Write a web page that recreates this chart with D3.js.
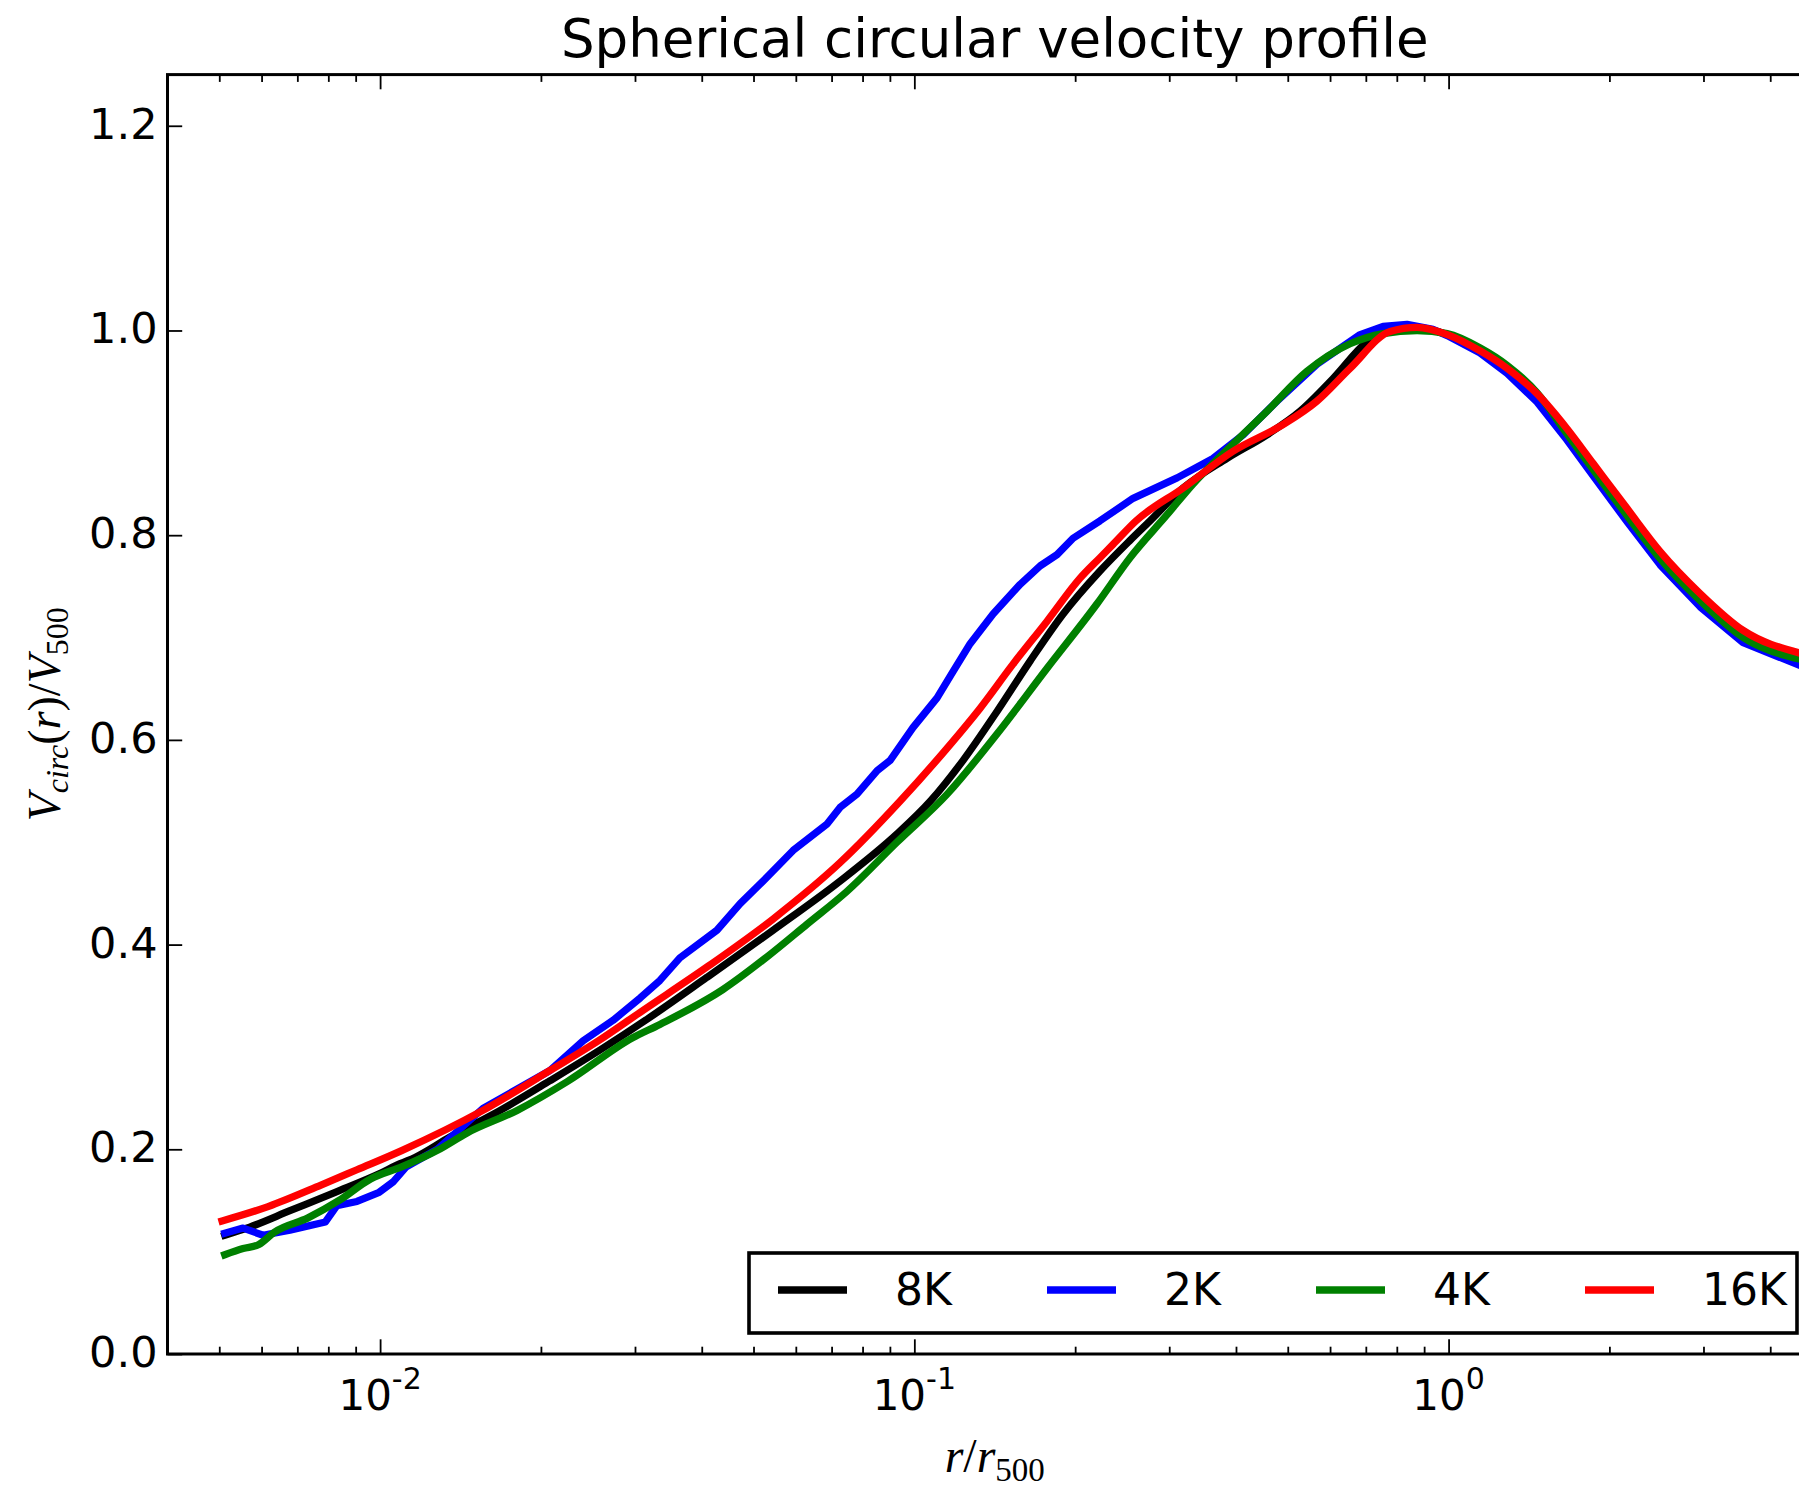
<!DOCTYPE html>
<html>
<head>
<meta charset="utf-8">
<script src="https://cdn.jsdelivr.net/npm/d3@7"></script>
<style>
body{margin:0;background:#fff;}
svg{display:block;}
</style>
</head>
<body>
<div id="chart"></div>
<script>
// series (r/r500 -> Vcirc/V500)
var names=['8K','2K','4K','16K'];
var colors=['#000000','#0000ff','#008000','#ff0000'];

var r8K=[0.00512,0.0057,0.00678,0.00824,0.00996,0.0109,0.01162,0.01352,0.01678,0.0208,0.0258,0.0320,0.0409,0.0544,0.0726,0.0928,0.1071,0.1234,0.1429,0.1647,0.1899,0.2226,0.2534,0.2762,0.3184,0.3848,0.457,0.527,0.608,0.704,0.787,0.873,0.994,1.146,1.287,1.465,1.666,1.865,2.159,2.489,2.957,3.559,4.53];
var v8K=[0.116,0.124,0.140,0.158,0.176,0.186,0.192,0.212,0.238,0.267,0.297,0.329,0.368,0.414,0.462,0.508,0.540,0.580,0.628,0.677,0.723,0.765,0.795,0.814,0.846,0.875,0.898,0.921,0.953,0.989,1.002,1.002,0.996,0.979,0.961,0.935,0.900,0.866,0.822,0.780,0.739,0.703,0.681];

var r2K=[0.00512,0.00554,0.00604,0.00678,0.0079,0.0083,0.00905,0.00996,0.01057,0.0112,0.0128,0.01558,0.0208,0.0240,0.0273,0.0307,0.0334,0.0364,0.0427,0.0472,0.0521,0.0593,0.0687,0.0726,0.0781,0.0852,0.0901,0.0994,0.1103,0.1182,0.1272,0.1404,0.1578,0.1720,0.1850,0.1982,0.2226,0.2567,0.3103,0.3623,0.4124,0.4775,0.567,0.683,0.754,0.836,0.935,0.994,1.146,1.287,1.465,1.666,1.865,2.159,2.489,2.957,3.559,4.53];
var v2K=[0.118,0.123,0.116,0.121,0.129,0.145,0.149,0.158,0.168,0.183,0.200,0.240,0.277,0.306,0.326,0.348,0.365,0.387,0.414,0.440,0.462,0.492,0.518,0.534,0.547,0.570,0.580,0.612,0.641,0.667,0.694,0.723,0.752,0.770,0.781,0.797,0.814,0.836,0.856,0.875,0.898,0.931,0.967,0.996,1.004,1.006,1.001,0.995,0.978,0.958,0.930,0.893,0.858,0.813,0.771,0.730,0.695,0.673];

var r4K=[0.00512,0.00554,0.00593,0.00634,0.00733,0.00838,0.0096,0.011,0.0128,0.01455,0.01805,0.02238,0.0297,0.0334,0.0438,0.0530,0.0630,0.0748,0.0928,0.1152,0.1429,0.1772,0.2198,0.2534,0.2972,0.3324,0.3949,0.457,0.543,0.654,0.754,0.873,0.994,1.146,1.287,1.465,1.666,1.865,2.159,2.489,2.957,3.559,4.53];
var v4K=[0.097,0.103,0.107,0.119,0.133,0.150,0.171,0.183,0.199,0.216,0.238,0.266,0.309,0.322,0.356,0.388,0.420,0.452,0.500,0.547,0.606,0.670,0.733,0.778,0.820,0.850,0.889,0.921,0.960,0.987,0.997,1.000,0.997,0.983,0.966,0.939,0.899,0.864,0.819,0.777,0.736,0.700,0.679];

var r16K=[0.00506,0.00617,0.00775,0.00905,0.0110,0.01558,0.0208,0.0258,0.0307,0.0409,0.0544,0.0726,0.0940,0.1152,0.1328,0.1530,0.1772,0.2043,0.2226,0.2355,0.26,0.3184,0.3949,0.4897,0.567,0.654,0.777,0.873,0.994,1.146,1.287,1.465,1.666,1.865,2.159,2.489,2.957,3.559,4.53];
var v16K=[0.130,0.144,0.165,0.180,0.199,0.238,0.277,0.307,0.334,0.378,0.425,0.480,0.540,0.592,0.631,0.674,0.716,0.758,0.778,0.791,0.814,0.846,0.882,0.908,0.931,0.963,0.999,1.003,0.996,0.980,0.963,0.938,0.904,0.870,0.826,0.784,0.743,0.707,0.685];

var yTicks=[0,0.2,0.4,0.6,0.8,1.0,1.2];
var xMajor=[0.01,0.1,1];
var xExp=['-2','-1','0'];

var svgW=1799, svgH=1488;
var plot={left:167.5,top:74.6,right:1822,bottom:1354};

var svg=d3.select('#chart').append('svg')
    .attr('width',svgW)
    .attr('height',svgH)
    .style('font-family','"DejaVu Sans", sans-serif');

var x=d3.scaleLog().domain([0.004,5]).range([plot.left,plot.right]);
var y=d3.scaleLinear().domain([0,1.25]).range([plot.bottom,plot.top]);

svg.append('clipPath').attr('id','pclip')
  .append('rect')
    .attr('x',plot.left).attr('y',plot.top)
    .attr('width',plot.right-plot.left).attr('height',plot.bottom-plot.top);

// curves, drawn in legend order so red sits on top
var series=[[r8K,v8K],[r2K,v2K],[r4K,v4K],[r16K,v16K]];
var lineG=svg.append('g').attr('clip-path','url(#pclip)');
series.forEach(function(s,i){
    var line=d3.line()
        .x(function(d){return x(d[0]);})
        .y(function(d){return y(d[1]);})
        .curve(i==1 ? d3.curveLinear : d3.curveMonotoneX);
    lineG.append('path')
        .datum(d3.zip(s[0],s[1]))
        .attr('d',line)
        .attr('fill','none')
        .attr('stroke',colors[i])
        .attr('stroke-width',7.3)
        .attr('stroke-linejoin','round')
        .attr('stroke-linecap','square');
});

// ticks (inward, classic style)
var minor=x.ticks().filter(function(v){
    var l=Math.log10(v);
    return Math.abs(l-Math.round(l))>1e-6;
});
function tickStyle(g){
    g.select('.domain').remove();
    g.selectAll('.tick line').attr('stroke','#000').attr('stroke-width',1.8);
    g.selectAll('.tick text').remove();
}
svg.append('g').attr('transform',`translate(0,${plot.bottom})`)
    .call(d3.axisBottom(x).tickValues(xMajor).tickSize(-14.7)).call(tickStyle);
svg.append('g').attr('transform',`translate(0,${plot.bottom})`)
    .call(d3.axisBottom(x).tickValues(minor).tickSize(-7.3)).call(tickStyle);
svg.append('g').attr('transform',`translate(0,${plot.top})`)
    .call(d3.axisTop(x).tickValues(xMajor).tickSize(-14.7)).call(tickStyle);
svg.append('g').attr('transform',`translate(0,${plot.top})`)
    .call(d3.axisTop(x).tickValues(minor).tickSize(-7.3)).call(tickStyle);
svg.append('g').attr('transform',`translate(${plot.left},0)`)
    .call(d3.axisLeft(y).tickValues(yTicks).tickSize(-14.7)).call(tickStyle);
svg.append('g').attr('transform',`translate(${plot.right},0)`)
    .call(d3.axisRight(y).tickValues(yTicks).tickSize(-14.7)).call(tickStyle);

// frame
svg.append('rect')
    .attr('x',plot.left).attr('y',plot.top)
    .attr('width',plot.right-plot.left).attr('height',plot.bottom-plot.top)
    .attr('fill','none').attr('stroke','#000').attr('stroke-width',3);

// tick labels
svg.selectAll('.ylab').data(yTicks).enter().append('text')
    .attr('x',plot.left-10)
    .attr('y',function(d){return y(d)+13;})
    .attr('text-anchor','end')
    .attr('font-size',43)
    .text(function(d){return d.toFixed(1);});

var xl=svg.selectAll('.xlab').data(xMajor).enter().append('text')
    .attr('x',function(d){return x(d);})
    .attr('y',1410)
    .attr('text-anchor','middle')
    .attr('font-size',42);
xl.append('tspan').text('10');
xl.append('tspan').attr('font-size',30).attr('dy',-21)
    .text(function(d,i){return xExp[i];});

// title
svg.append('text')
    .attr('x',(plot.left+plot.right)/2).attr('y',57)
    .attr('text-anchor','middle')
    .attr('font-size',53)
    .text('Spherical circular velocity profile');

// axis labels (math style)
var mathFont='"Liberation Serif", "DejaVu Serif", serif';
var ylab=svg.append('text')
    .attr('transform',`translate(60,${(plot.top+plot.bottom)/2}) rotate(-90)`)
    .attr('text-anchor','middle')
    .style('font-family',mathFont)
    .attr('font-size',46);
ylab.append('tspan').attr('font-style','italic').text('V');
ylab.append('tspan').attr('font-style','italic').attr('font-size',32).attr('dy',8).text('circ');
ylab.append('tspan').attr('dy',-8).text('(');
ylab.append('tspan').attr('font-style','italic').text('r');
ylab.append('tspan').text(')/');
ylab.append('tspan').attr('font-style','italic').text('V');
ylab.append('tspan').attr('font-size',32).attr('dy',8).text('500');

var xlab=svg.append('text')
    .attr('x',(plot.left+plot.right)/2).attr('y',1472)
    .attr('text-anchor','middle')
    .style('font-family',mathFont)
    .attr('font-size',48);
xlab.append('tspan').attr('font-style','italic').text('r');
xlab.append('tspan').text('/');
xlab.append('tspan').attr('font-style','italic').text('r');
xlab.append('tspan').attr('font-size',33).attr('dy',9).text('500');

// legend
var leg=svg.append('g');
leg.append('rect')
    .attr('x',749).attr('y',1253).attr('width',1048).attr('height',80)
    .attr('fill','#fff').attr('stroke','#000').attr('stroke-width',3.6);
names.forEach(function(n,i){
    var x0=778+i*269;
    leg.append('line')
        .attr('x1',x0).attr('x2',x0+69)
        .attr('y1',1290).attr('y2',1290)
        .attr('stroke',colors[i]).attr('stroke-width',7.3);
    leg.append('text')
        .attr('x',895+i*269).attr('y',1305)
        .attr('font-size',44)
        .text(n);
});
</script>
</body>
</html>
